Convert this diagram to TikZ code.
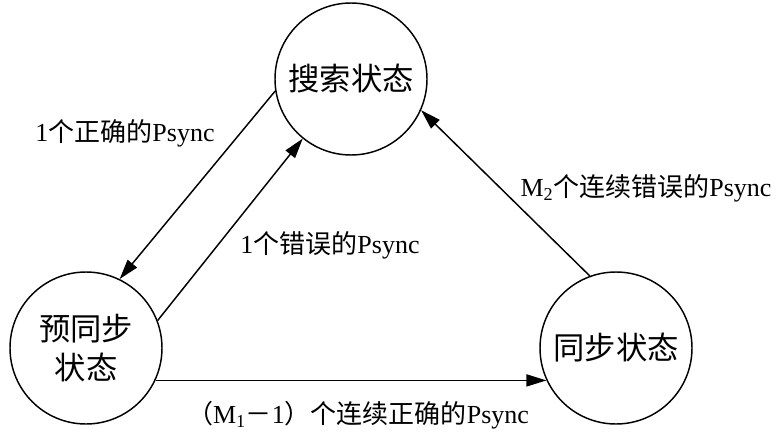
\documentclass[tikz,border=0pt]{standalone}
\usepackage{fontspec}
\setmainfont{Liberation Serif}
\newfontfamily\cjk{Noto Sans CJK SC}
\usetikzlibrary{arrows.meta}
\begin{document}
\begin{tikzpicture}[x=0.75pt,y=-0.75pt,
  state/.style={draw,circle,line width=1.1pt,minimum size=114pt,inner sep=0pt,
    font=\fontsize{23.5}{29}\selectfont\cjk,align=center},
  conn/.style={line width=1.1pt,-{Triangle[length=15pt,width=9pt]}},
  lbl/.style={font=\fontsize{19.5}{23}\selectfont,inner sep=0pt}]
\useasboundingbox (0,0) rectangle (782,439);
\node[state] (search) at (351,79) {搜索状态};
\node[state] (pre) at (86,348) {预同步\\状态};
\node[state] (sync) at (616,348) {同步状态};
\draw[conn] (search.189.7) -- (pre.64);
\draw[conn] (pre.21) -- (search.231);
\draw[conn] (pre.-25.7) -- (sync.205.7);
\draw[conn] (sync.110) -- (search.-24);
\node[lbl] (l1) at (125,133) {1{\cjk 个正确的}Psync};
\node[lbl] (l2) at (330,245) {1{\cjk 个错误的}Psync};
\node[lbl] (l3) at (646,188) {M\textsubscript{2}{\cjk 个连续错误的}Psync};
\node[lbl] (l4) at (358,415) {{\cjk （}M\textsubscript{1}{\cjk －}1{\cjk ）个连续正确的}Psync};
\end{tikzpicture}
\end{document}
